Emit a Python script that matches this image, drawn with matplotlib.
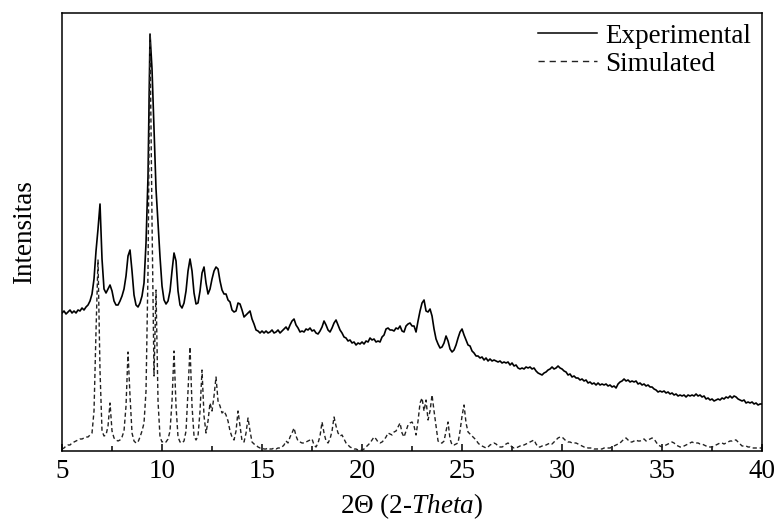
import numpy as np
import matplotlib
matplotlib.use("Agg")
import matplotlib.pyplot as plt
from matplotlib.lines import Line2D
from matplotlib.ticker import MultipleLocator

plt.rcParams['font.family'] = ['Liberation Serif', 'DejaVu Serif']
plt.rcParams['font.size'] = 19.5
plt.rcParams['mathtext.fontset'] = 'custom'
plt.rcParams['mathtext.rm'] = 'Liberation Serif'
plt.rcParams['mathtext.it'] = 'Liberation Serif:italic'

# scan grid, 5 - 40 deg, 0.1 deg step
two_theta = np.round(np.linspace(5, 40, 351), 1)

# experimental pattern (one row per degree)
experimental = [
    138, 140, 137, 139, 141, 138, 140, 138, 141, 140,   # 5
    143, 141, 144, 146, 150, 157, 172, 200, 222, 247,   # 6
    192, 162, 158, 162, 166, 160, 150, 146, 146, 150,   # 7
    155, 162, 175, 195, 201, 180, 156, 146, 144, 148,   # 8
    155, 168, 208, 275, 417, 382, 322, 262, 228, 194,   # 9
    165, 151, 147, 150, 160, 180, 198, 190, 160, 146,   # 10
    143, 148, 160, 180, 192, 180, 158, 147, 148, 160,   # 11
    178, 184, 168, 157, 162, 172, 180, 184, 182, 170,   # 12
    161, 157, 157, 151, 149, 141, 139, 140, 148, 147,   # 13
    141, 134, 136, 138, 140, 132, 127, 121, 120, 118,   # 14
    120, 118, 120, 118, 119, 121, 118, 119, 121, 118,   # 15
    120, 122, 124, 121, 126, 130, 132, 126, 123, 119,   # 16
    120, 119, 122, 121, 123, 120, 121, 118, 117, 120,   # 17
    124, 130, 126, 121, 119, 123, 128, 131, 126, 121,   # 18
    118, 114, 113, 110, 111, 108, 109, 106, 108, 107,   # 19
    109, 107, 110, 109, 113, 111, 112, 109, 110, 109,   # 20
    114, 116, 122, 123, 121, 121, 120, 123, 122, 125,   # 21
    120, 119, 125, 127, 128, 125, 125, 119, 130, 140,   # 22
    148, 151, 140, 139, 142, 135, 122, 112, 107, 103,   # 23
    104, 108, 115, 110, 102, 99, 101, 106, 113, 119,    # 24
    122, 116, 111, 106, 105, 100, 98, 95, 95, 93,       # 25
    94, 91, 93, 90, 92, 90, 91, 90, 89, 90,             # 26
    88, 89, 88, 89, 86, 88, 85, 86, 83, 82,             # 27
    83, 82, 84, 83, 84, 82, 83, 80, 78, 77,             # 28
    76, 78, 79, 81, 82, 84, 82, 83, 85, 83,             # 29
    82, 80, 79, 76, 77, 74, 75, 73, 73, 71,             # 30
    72, 70, 71, 68, 69, 67, 68, 66, 68, 66,             # 31
    67, 66, 67, 65, 66, 64, 65, 63, 67, 69,             # 32
    70, 72, 70, 71, 69, 70, 69, 70, 67, 68,             # 33
    66, 67, 65, 66, 64, 64, 62, 61, 59, 60,             # 34
    59, 60, 58, 59, 57, 58, 56, 57, 55, 56,             # 35
    55, 56, 54, 56, 55, 56, 55, 57, 55, 56,             # 36
    54, 55, 52, 53, 51, 52, 50, 51, 52, 51,             # 37
    53, 52, 54, 53, 55, 53, 55, 54, 52, 51,             # 38
    50, 51, 48, 49, 48, 49, 47, 48, 46, 47,             # 39
    47,
]

# simulated pattern
simulated = [
    2, 3, 5, 6, 6, 8, 9, 10, 11, 12,            # 5
    12, 13, 14, 14, 16, 18, 40, 120, 191, 80,   # 6
    20, 15, 16, 25, 48, 20, 13, 11, 10, 11,     # 7
    14, 20, 45, 99, 55, 18, 10, 8, 9, 14,       # 8
    20, 28, 60, 180, 417, 230, 75, 161, 50, 14, # 9
    9, 10, 9, 12, 20, 50, 100, 45, 14, 9,       # 10
    8, 10, 20, 60, 104, 45, 15, 11, 15, 40,     # 11
    81, 35, 18, 30, 48, 40, 55, 74, 50, 45,     # 12
    38, 40, 36, 30, 20, 14, 11, 20, 40, 25,     # 13
    10, 9, 18, 33, 20, 9, 7, 6, 4, 3,           # 14
    3, 2, 2, 3, 2, 2, 3, 2, 3, 3,               # 15
    4, 6, 10, 8, 14, 18, 23, 15, 10, 9,         # 16
    8, 8, 9, 10, 11, 12, 6, 4, 8, 15,           # 17
    29, 18, 10, 8, 12, 20, 34, 25, 18, 15,      # 18
    16, 12, 8, 6, 4, 3, 2, 2, 1, 1,             # 19
    1, 2, 4, 6, 8, 11, 14, 12, 9, 8,            # 20
    9, 11, 14, 18, 17, 16, 19, 20, 24, 28,      # 21
    18, 14, 20, 26, 28, 29, 25, 16, 30, 48,     # 22
    53, 40, 51, 31, 40, 56, 40, 25, 10, 8,      # 23
    8, 10, 20, 29, 12, 6, 6, 7, 8, 20,          # 24
    35, 46, 28, 19, 17, 15, 13, 11, 8, 6,       # 25
    5, 4, 3, 4, 6, 7, 8, 7, 5, 4,               # 26
    4, 5, 7, 8, 6, 4, 3, 3, 4, 5,               # 27
    6, 6, 7, 8, 9, 10, 11, 7, 4, 4,             # 28
    5, 5, 6, 7, 8, 7, 9, 11, 13, 14,            # 29
    14, 12, 10, 9, 9, 8, 8, 8, 7, 6,            # 30
    5, 4, 4, 3, 3, 3, 2, 2, 2, 2,               # 31
    2, 3, 3, 3, 3, 4, 5, 6, 7, 8,               # 32
    10, 12, 13, 11, 9, 9, 10, 11, 10, 10,       # 33
    11, 12, 10, 11, 12, 13, 12, 9, 6, 5,        # 34
    4, 5, 6, 7, 8, 9, 8, 6, 5, 4,               # 35
    4, 5, 6, 7, 8, 9, 8, 8, 8, 7,               # 36
    7, 6, 5, 4, 4, 4, 5, 6, 7, 8,               # 37
    8, 7, 8, 9, 10, 10, 11, 11, 9, 7,           # 38
    5, 5, 5, 4, 4, 3, 3, 3, 3, 3,               # 39
    3,
]

series_labels = ["Experimental", "Simulated"]

fig = plt.figure(figsize=(7.8, 5.2), dpi=100)
ax = fig.add_axes([0.0795, 0.1327, 0.8975, 0.8423])

ax.plot(two_theta, experimental, color='black', lw=1.2)
ax.plot(two_theta, simulated, color='#222222', lw=1.0, linestyle=(0, (3, 2)))

ax.set_xlim(5, 40)
ax.set_ylim(0, 438)
ax.xaxis.set_major_locator(MultipleLocator(5))
ax.xaxis.set_minor_locator(MultipleLocator(2.5))
ax.tick_params(axis='x', which='major', direction='in', length=5, width=1.1, pad=6)
ax.tick_params(axis='x', which='minor', direction='in', length=3.5, width=1.1)
ax.set_yticks([])
for sp in ax.spines.values():
    sp.set_linewidth(1.1)

ax.set_xlabel('2Θ ($\\mathit{2\\text{-}Theta}$)', labelpad=5)
ax.set_ylabel('Intensitas', labelpad=18)

handles = [Line2D([], [], color='black', lw=1.1),
           Line2D([], [], color='#222222', lw=1.0, linestyle=(0, (4.5, 3.5)))]
ax.legend(handles, series_labels, loc='upper right', frameon=False,
          handlelength=2.2, handletextpad=0.3, labelspacing=0.1,
          borderaxespad=0.15, borderpad=0.25)

fig.savefig('out.png', dpi=100)
